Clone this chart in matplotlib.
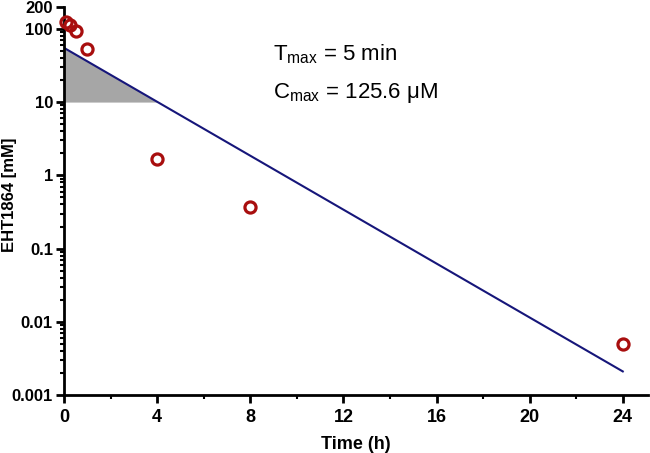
import matplotlib
matplotlib.use("Agg")
import matplotlib.pyplot as plt
import numpy as np
from matplotlib.ticker import FixedLocator, LogLocator, NullFormatter

plt.rcParams['font.family'] = ['Liberation Sans', 'DejaVu Sans']

# measured concentrations
time_h = [0.083, 0.25, 0.5, 1, 4, 8, 24]
conc = [125.6, 113, 94, 53, 1.65, 0.37, 0.0049]

# fitted elimination line
fit_t = [0, 24]
fit_c = [55, 0.0021]

# shaded area (0 to 4 h, above 10)
shade_t = [0, 4]
shade_floor = 10

ytick_vals = [0.001, 0.01, 0.1, 1, 10, 100, 200]
ytick_labels = ['0.001', '0.01', '0.1', '1', '10', '100', '200']
xtick_vals = [0, 4, 8, 12, 16, 20, 24]

fig = plt.figure(figsize=(6.5, 4.53), dpi=100)
ax = fig.add_axes([0.0985, 0.128, 0.899, 0.857])

# log-linear fit evaluated between the two end points
tt = np.linspace(shade_t[0], shade_t[1], 50)
slope = (np.log10(fit_c[1]) - np.log10(fit_c[0])) / (fit_t[1] - fit_t[0])
line_vals = 10 ** (np.log10(fit_c[0]) + slope * (tt - fit_t[0]))
ax.fill_between(tt, shade_floor, line_vals, where=line_vals >= shade_floor,
                color='#a6a6a6', linewidth=0, zorder=1)

ax.plot(fit_t, fit_c, color='#16167a', linewidth=1.5, zorder=2)
ax.plot(time_h, conc, 'o', markerfacecolor='none', markeredgecolor='#a80e0e',
        markersize=8, markeredgewidth=2.3, zorder=3, clip_on=False)

ax.set_yscale('log')
ax.set_ylim(0.001, 200)
ax.set_xlim(0, 25.1)

ax.yaxis.set_major_locator(FixedLocator(ytick_vals))
ax.set_yticklabels(ytick_labels)
ax.yaxis.set_minor_locator(LogLocator(base=10, subs=np.arange(2, 10)))
ax.yaxis.set_minor_formatter(NullFormatter())
ax.set_xticks(xtick_vals)
ax.set_xticks([2, 6, 10, 14, 18, 22], minor=True)

for s in ['top', 'right']:
    ax.spines[s].set_visible(False)
for s in ['left', 'bottom']:
    ax.spines[s].set_linewidth(2)

ax.tick_params(axis='both', which='major', length=6, width=2, pad=2)
ax.tick_params(axis='y', which='major', labelsize=12)
ax.tick_params(axis='x', which='major', labelsize=13, pad=4)
ax.tick_params(axis='both', which='minor', length=3, width=1.5)
for lab in ax.get_xticklabels() + ax.get_yticklabels():
    lab.set_fontweight('bold')

ax.set_xlabel('Time (h)', fontsize=13, fontweight='bold', labelpad=7)
ax.set_ylabel('EHT1864 [mM]', fontsize=12, fontweight='bold')
ax.yaxis.set_label_coords(-0.08, 0.515)

ax.text(0.358, 0.861, r'T$_{\mathregular{max}}$ = 5 min', transform=ax.transAxes,
        fontsize=16, va='baseline')
ax.text(0.358, 0.765, r'C$_{\mathregular{max}}$ = 125.6 μM', transform=ax.transAxes,
        fontsize=16, va='baseline')

fig.savefig('out.png', dpi=100)
